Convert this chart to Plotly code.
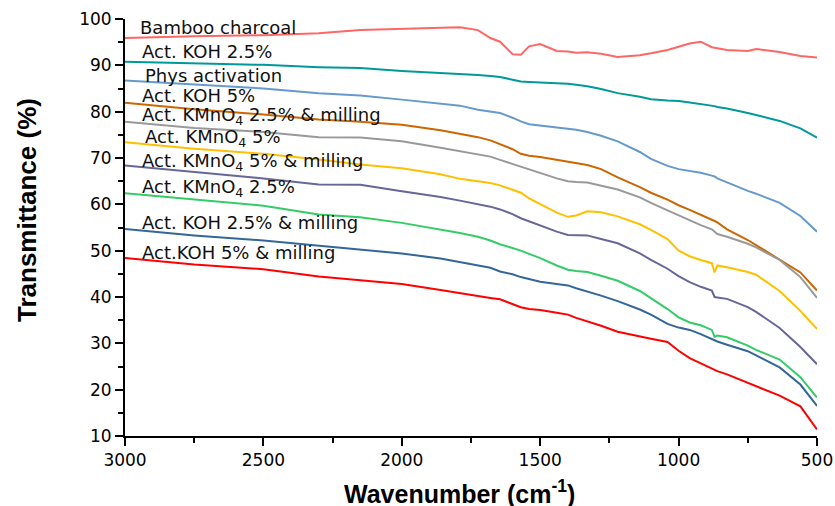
import plotly.graph_objects as go

wavenumber = [3000, 2750, 2500, 2300, 2150, 2000, 1860, 1790, 1725, 1680, 1645, 1600,
              1570, 1540, 1500, 1440, 1400, 1370, 1330, 1280, 1220, 1140, 1100, 1040,
              1000, 960, 920, 880, 870, 860, 825, 750, 720, 635, 560, 500]

bamboo_charcoal = [95.9, 96.3, 96.5, 96.9, 97.6, 97.9, 98.1, 98.2, 97.6, 95.9, 95.1, 92.4,
                   92.3, 94.1, 94.6, 93.1, 93.0, 92.7, 92.8, 92.5, 91.8, 92.2, 92.6, 93.3,
                   94.0, 94.7, 95.1, 93.9, 93.8, 93.7, 93.3, 93.1, 93.5, 92.9, 92.0, 91.7]
act_koh_25 = [90.8, 90.4, 90.1, 89.6, 89.4, 88.8, 88.4, 88.2, 87.9, 87.7, 87.5, 86.9,
              86.5, 86.4, 86.3, 86.2, 86.0, 85.8, 85.5, 84.9, 84.0, 83.2, 82.7, 82.4,
              82.3, 82.0, 81.7, 81.3, 81.2, 81.0, 80.7, 79.7, 79.3, 78.0, 76.4, 74.4]
phys_activation = [86.7, 85.8, 85.0, 84.0, 83.5, 82.6, 81.8, 81.3, 80.4, 80.0, 79.7, 78.7,
                   77.9, 77.3, 77.0, 76.5, 76.3, 76.1, 75.6, 74.8, 73.6, 71.3, 69.8, 68.3,
                   67.6, 67.2, 66.8, 66.2, 66.0, 65.6, 64.7, 62.9, 62.3, 60.3, 57.5, 54.1]
act_koh_5 = [81.9, 80.5, 79.4, 78.3, 77.8, 77.2, 76.0, 75.2, 74.5, 73.8, 73.0, 71.9,
             70.9, 70.5, 70.2, 69.6, 69.2, 68.8, 68.5, 67.6, 65.8, 63.7, 62.5, 61.0,
             59.8, 58.8, 57.8, 56.7, 56.4, 56.1, 54.6, 52.3, 51.2, 48.2, 45.3, 41.4]
act_kmno4_25_milling = [77.8, 76.5, 75.6, 74.5, 74.4, 73.6, 72.2, 71.4, 70.8, 70.3, 69.6, 68.7,
                        68.1, 67.5, 66.7, 65.6, 65.0, 64.8, 64.7, 64.0, 63.2, 61.5, 60.3, 58.7,
                        57.6, 56.5, 55.5, 54.6, 54.1, 53.6, 53.0, 51.5, 50.7, 48.0, 44.3, 39.8]
act_kmno4_5 = [73.4, 72.0, 70.9, 69.7, 68.6, 67.8, 66.5, 65.5, 65.0, 64.6, 64.1, 63.1,
               62.5, 61.3, 60.0, 58.2, 57.3, 57.6, 58.5, 58.3, 57.4, 55.7, 54.5, 52.5,
               50.0, 48.8, 48.0, 47.3, 45.3, 46.8, 46.4, 45.4, 44.8, 41.3, 37.0, 33.1]
act_kmno4_5_milling = [68.4, 67.0, 65.6, 64.3, 64.2, 62.8, 61.6, 60.8, 60.0, 59.5, 58.9, 57.9,
                       57.0, 56.3, 55.4, 54.1, 53.4, 53.3, 53.3, 52.5, 51.6, 49.4, 48.0, 46.1,
                       44.5, 43.2, 42.2, 41.4, 40.0, 39.9, 39.6, 37.8, 36.8, 33.3, 29.2, 25.5]
act_kmno4_25 = [62.4, 61.0, 59.7, 57.8, 57.2, 56.0, 54.6, 53.8, 53.0, 52.2, 51.4, 50.6,
                50.0, 49.3, 48.4, 46.8, 45.9, 45.6, 45.4, 44.6, 43.5, 41.3, 39.8, 37.4,
                35.6, 34.5, 33.9, 32.9, 31.4, 31.7, 31.3, 29.5, 28.6, 26.5, 22.7, 18.3]
act_koh_25_milling = [54.7, 53.3, 52.2, 51.1, 50.2, 49.4, 48.3, 47.5, 46.9, 46.3, 45.5, 44.9,
                      44.3, 43.8, 43.3, 42.8, 42.5, 41.9, 41.2, 40.3, 39.1, 37.3, 36.2, 34.2,
                      33.4, 32.9, 32.0, 30.9, 30.7, 30.4, 29.7, 28.3, 27.4, 24.8, 21.1, 16.5]
act_koh_5_milling = [48.4, 47.0, 46.0, 44.4, 43.6, 42.8, 41.5, 40.8, 40.1, 39.8, 39.5, 38.4,
                     37.8, 37.4, 37.2, 36.6, 36.2, 35.5, 34.8, 33.8, 32.5, 31.4, 31.0, 30.3,
                     28.4, 26.8, 25.7, 24.6, 24.3, 24.0, 23.3, 21.5, 20.8, 18.7, 16.4, 11.4]

series_names = ["Bamboo charcoal", "Act. KOH 2.5%", "Phys activation", "Act. KOH 5%",
                "Act. KMnO<sub>4</sub> 2.5% & milling", "Act. KMnO<sub>4</sub> 5%",
                "Act. KMnO<sub>4</sub> 5% & milling", "Act. KMnO<sub>4</sub> 2.5%",
                "Act. KOH 2.5% & milling", "Act.KOH 5% & milling"]
series_values = [bamboo_charcoal, act_koh_25, phys_activation, act_koh_5,
                 act_kmno4_25_milling, act_kmno4_5, act_kmno4_5_milling, act_kmno4_25,
                 act_koh_25_milling, act_koh_5_milling]
series_colors = ["#FF6666", "#009999", "#6699CC", "#CC6600", "#999999",
                 "#FFC000", "#666699", "#33CC66", "#336699", "#FF0000"]
label_y = [98.2, 92.9, 87.9, 83.4, 79.0, 74.3, 69.2, 63.5, 56.1, 49.6]
label_x = [0.019, 0.022, 0.026, 0.022, 0.022, 0.026, 0.022, 0.022, 0.022, 0.022]

fig = go.Figure()
for name, vals, col in zip(series_names, series_values, series_colors):
    fig.add_trace(go.Scatter(x=wavenumber, y=vals, mode="lines", name=name,
                             line=dict(color=col, width=2)))

annotations = []
for name, ly, lx in zip(series_names, label_y, label_x):
    annotations.append(dict(x=lx, xref="paper", y=ly, yref="y", text=name,
                            showarrow=False, xanchor="left", yanchor="middle",
                            font=dict(family="DejaVu Sans", size=18, color="#111111")))
annotations.append(dict(x=-0.1416, xref="paper", y=0.542, yref="paper",
                        text="<b>Transmittance (%)</b>", textangle=-90, showarrow=False,
                        xanchor="center", yanchor="middle",
                        font=dict(family="Liberation Sans", size=26, color="black")))
annotations.append(dict(x=0.484, xref="paper", y=-0.135, yref="paper",
                        text="<b>Wavenumber (cm<sup>-1</sup>)</b>", showarrow=False,
                        xanchor="center", yanchor="middle",
                        font=dict(family="Liberation Sans", size=25, color="black")))

axis_common = dict(showgrid=False, zeroline=False, showline=True, linecolor="black",
                   linewidth=2, ticks="outside", ticklen=8, tickwidth=1.5, tickcolor="black",
                   tickfont=dict(family="DejaVu Sans", size=17, color="black"),
                   mirror=False)

fig.update_layout(
    width=835, height=506,
    margin=dict(l=125, r=18, t=19, b=70, autoexpand=False),
    plot_bgcolor="white", paper_bgcolor="white",
    showlegend=False,
    annotations=annotations,
    xaxis=dict(range=[3000, 500], tickmode="array", tickvals=[3000, 2500, 2000, 1500, 1000, 500],
               minor=dict(tickvals=[2750, 2250, 1750, 1250, 750], ticks="outside", ticklen=5,
                          tickwidth=1.5, tickcolor="black"),
               **axis_common),
    yaxis=dict(range=[10, 100], tickmode="array", tickvals=list(range(10, 101, 10)),
               minor=dict(tickvals=list(range(15, 100, 10)), ticks="outside", ticklen=5,
                          tickwidth=1.5, tickcolor="black"),
               **axis_common),
)

fig.write_html("out.html")
